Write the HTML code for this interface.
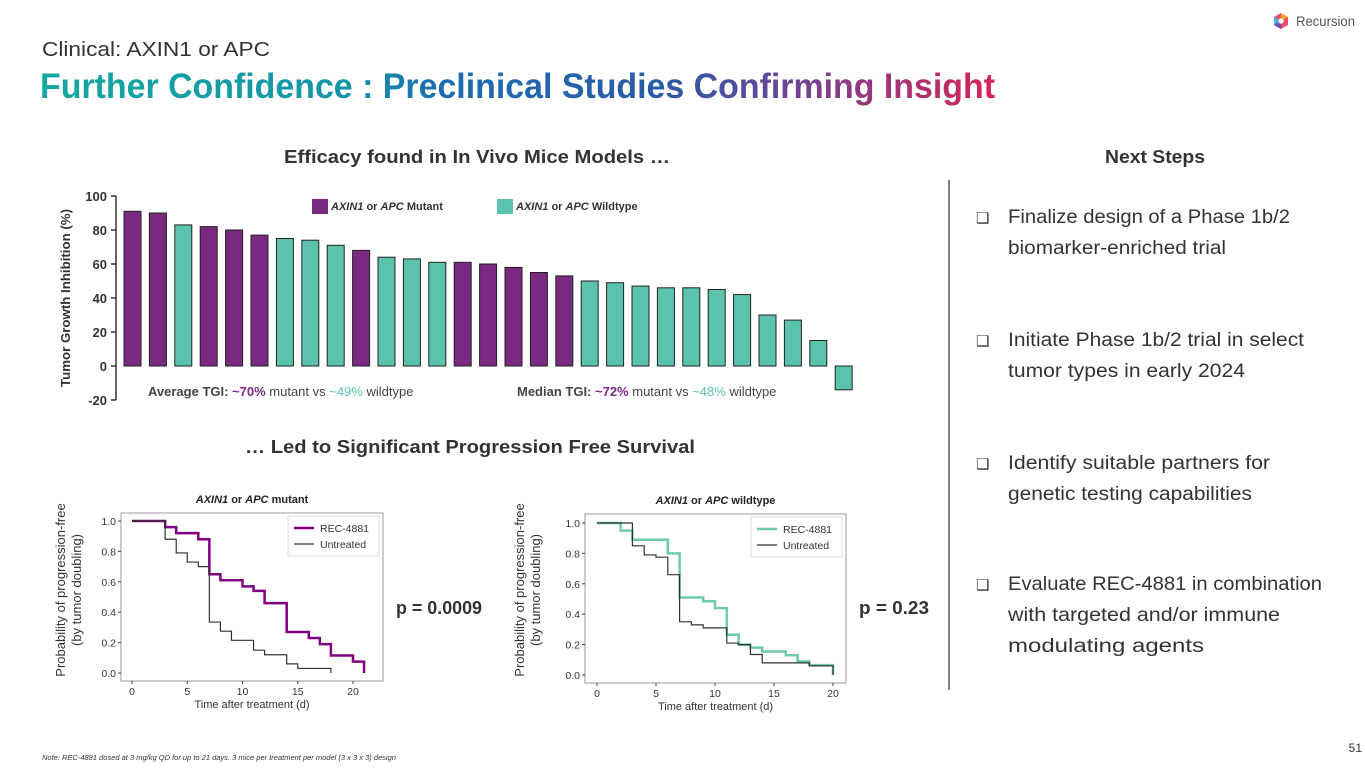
<!DOCTYPE html>
<html><head><meta charset="utf-8"><style>
html,body{margin:0;padding:0;background:#fff;}
svg{display:block;font-family:"Liberation Sans",sans-serif;}
</style></head><body>
<svg id="slide" width="1365" height="768" viewBox="0 0 1365 768" xmlns="http://www.w3.org/2000/svg">
<defs>
<linearGradient id="tg" x1="40" y1="0" x2="995" y2="0" gradientUnits="userSpaceOnUse">
<stop offset="0" stop-color="#14A7A0"/><stop offset="0.33" stop-color="#1393A8"/>
<stop offset="0.42" stop-color="#1C6DB0"/><stop offset="0.65" stop-color="#2A5AA6"/>
<stop offset="0.75" stop-color="#5B4A9A"/><stop offset="1" stop-color="#D7245A"/>
</linearGradient>
</defs>
<g>
<polygon points="1281,13 1288,17 1288,25 1281,29 1274,25 1274,17" fill="#E94E77"/>
<polygon points="1281,13 1288,17 1281,21" fill="#F5A623"/>
<polygon points="1274,17 1281,21 1274,25" fill="#3DB4E5"/>
<polygon points="1281,21 1281,29 1274,25" fill="#6C4BA8"/>
<circle cx="1281" cy="21" r="2.6" fill="#fff"/>
<text x="1296" y="26" font-size="14" fill="#555" textLength="59" lengthAdjust="spacingAndGlyphs">Recursion</text>
</g>
<text x="42" y="56" font-size="20" fill="#333" textLength="228" lengthAdjust="spacingAndGlyphs">Clinical: AXIN1 or APC</text>
<text x="40" y="98" font-size="35" font-weight="bold" fill="url(#tg)" textLength="955" lengthAdjust="spacingAndGlyphs">Further Confidence : Preclinical Studies Confirming Insight</text>
<text x="477" y="163" font-size="18" font-weight="bold" fill="#333" text-anchor="middle" textLength="386" lengthAdjust="spacingAndGlyphs">Efficacy found in In Vivo Mice Models …</text>
<text x="470" y="453" font-size="18" font-weight="bold" fill="#333" text-anchor="middle" textLength="450" lengthAdjust="spacingAndGlyphs">… Led to Significant Progression Free Survival</text>
<text x="1155" y="163" font-size="18" font-weight="bold" fill="#333" text-anchor="middle" textLength="100" lengthAdjust="spacingAndGlyphs">Next Steps</text>
<line x1="949" y1="180" x2="949" y2="690" stroke="#555" stroke-width="1.5"/>
<g font-size="19" fill="#333">
<text x="976" y="223" font-size="15">❑</text><text x="1008" y="223" textLength="282" lengthAdjust="spacingAndGlyphs">Finalize design of a Phase 1b/2</text><text x="1008" y="254" textLength="218" lengthAdjust="spacingAndGlyphs">biomarker-enriched trial</text>
<text x="976" y="346" font-size="15">❑</text><text x="1008" y="346" textLength="296" lengthAdjust="spacingAndGlyphs">Initiate Phase 1b/2 trial in select</text><text x="1008" y="377" textLength="237" lengthAdjust="spacingAndGlyphs">tumor types in early 2024</text>
<text x="976" y="469" font-size="15">❑</text><text x="1008" y="469" textLength="262" lengthAdjust="spacingAndGlyphs">Identify suitable partners for</text><text x="1008" y="500" textLength="244" lengthAdjust="spacingAndGlyphs">genetic testing capabilities</text>
<text x="976" y="590" font-size="15">❑</text><text x="1008" y="590" textLength="314" lengthAdjust="spacingAndGlyphs">Evaluate REC-4881 in combination</text><text x="1008" y="621" textLength="272" lengthAdjust="spacingAndGlyphs">with targeted and/or immune</text><text x="1008" y="652" textLength="196" lengthAdjust="spacingAndGlyphs">modulating agents</text>
</g>
<g id="bar-chart"></g>
<text transform="translate(70,298) rotate(-90)" font-size="13" font-weight="bold" fill="#333" text-anchor="middle" textLength="178" lengthAdjust="spacingAndGlyphs">Tumor Growth Inhibition (%)</text>
<g font-size="11" font-weight="bold" fill="#333">
<rect x="312" y="199" width="16" height="15" fill="#7B2A82"/><text x="331" y="210"><tspan font-style="italic">AXIN1</tspan> or <tspan font-style="italic">APC</tspan> Mutant</text>
<rect x="497" y="199" width="16" height="15" fill="#5BC2AE"/><text x="516" y="210"><tspan font-style="italic">AXIN1</tspan> or <tspan font-style="italic">APC</tspan> Wildtype</text>
</g>
<g font-size="13" fill="#444">
<text x="148" y="396"><tspan font-weight="bold">Average TGI: </tspan><tspan fill="#7B2A82" font-weight="bold">~70%</tspan> mutant vs <tspan fill="#5BC2AE">~49%</tspan> wildtype</text>
<text x="517" y="396"><tspan font-weight="bold">Median TGI: </tspan><tspan fill="#7B2A82" font-weight="bold">~72%</tspan> mutant vs <tspan fill="#5BC2AE">~48%</tspan> wildtype</text>
</g>
<g id="km1"></g>
<g id="km2"></g>
<g font-size="13" fill="#333">
<text transform="translate(65,590) rotate(-90)" text-anchor="middle">Probability of progression-free</text>
<text transform="translate(81,590) rotate(-90)" text-anchor="middle">(by tumor doubling)</text>
<text transform="translate(524,590) rotate(-90)" text-anchor="middle">Probability of progression-free</text>
<text transform="translate(540,590) rotate(-90)" text-anchor="middle">(by tumor doubling)</text>
</g>
<text x="396" y="614" font-size="18" font-weight="bold" fill="#333" textLength="86" lengthAdjust="spacingAndGlyphs">p = 0.0009</text>
<text x="859" y="614" font-size="18" font-weight="bold" fill="#333" textLength="70" lengthAdjust="spacingAndGlyphs">p = 0.23</text>
<text x="42" y="760" font-size="7.5" font-style="italic" fill="#333">Note: REC-4881 dosed at 3 mg/kg QD for up to 21 days. 3 mice per treatment per model (3 x 3 x 3) design</text>
<text x="1362" y="752" font-size="12" fill="#333" text-anchor="end">51</text>
</svg>
<script>
const NS='http://www.w3.org/2000/svg';
const tgiValues=[91,90,83,82,80,77,75,74,71,68,64,63,61,61,60,58,55,53,50,49,47,46,46,45,42,30,27,15,-14];
const tgiGroups=['M','M','W','M','M','M','W','W','W','M','W','W','W','M','M','M','M','M','W','W','W','W','W','W','W','W','W','W','W'];
const tgiTicks=[100,80,60,40,20,0,-20];
const km1Times=[0,3,4,6,7,8,10,11,12,14,16,17,18,20,21];
const km1Rec=[1,0.96,0.92,0.88,0.65,0.61,0.57,0.54,0.46,0.27,0.23,0.19,0.115,0.075,0];
const km1UTimes=[0,3,4,5,6,7,8,9,11,12,14,15,18];
const km1Untr=[1,0.88,0.79,0.73,0.70,0.335,0.275,0.215,0.15,0.12,0.06,0.03,0];
const km2Times=[0,2,3,6,7,9,10,11,12,13,14,16,17,18,20];
const km2Rec=[1,0.95,0.89,0.80,0.51,0.485,0.44,0.265,0.20,0.18,0.155,0.13,0.09,0.065,0];
const km2UTimes=[0,3,4,5,6,7,8,9,11,12,13,14,18,20];
const km2Untr=[1,0.85,0.79,0.775,0.66,0.35,0.33,0.31,0.21,0.20,0.135,0.08,0.06,0];
const kmYTicks=[0,0.2,0.4,0.6,0.8,1.0];
const kmXTicks=[0,5,10,15,20];

function mk(tag,attrs,parent){const e=document.createElementNS(NS,tag);for(const k in attrs)e.setAttribute(k,attrs[k]);parent.appendChild(e);return e;}

const bc=document.getElementById('bar-chart');
const yS=v=>366-v*1.7;
const xS=i=>124+i*25.4;
mk('line',{x1:116,y1:196,x2:116,y2:400,stroke:'#333','stroke-width':1.5},bc);
tgiTicks.forEach(t=>{
  mk('line',{x1:111,y1:yS(t),x2:116,y2:yS(t),stroke:'#333','stroke-width':1.5},bc);
  const tx=mk('text',{x:107,y:yS(t)+5,'font-size':13,'font-weight':'bold',fill:'#333','text-anchor':'end'},bc);
  tx.textContent=t;
});
tgiValues.forEach((v,i)=>{
  const r=mk('rect',{x:xS(i),y:Math.min(yS(v),yS(0)),width:17,height:Math.abs(yS(v)-yS(0)),fill:tgiGroups[i]==='M'?'#7B2A82':'#5BC2AE',stroke:'#222','stroke-width':1},bc);
  
  
});

function km(g,box,x0,xd,y0,y1,title,series){
  mk('rect',{x:box[0],y:box[1],width:box[2],height:box[3],fill:'#fff',stroke:'#999','stroke-width':1},g);
  const X=t=>x0+t*xd, Y=v=>y0-(y0-y1)*v;
  kmXTicks.forEach(t=>{mk('line',{x1:X(t),y1:box[1]+box[3],x2:X(t),y2:box[1]+box[3]+3,stroke:'#444'},g);
    const tx=mk('text',{x:X(t),y:box[1]+box[3]+14,'font-size':10.5,fill:'#333','text-anchor':'middle'},g);tx.textContent=t;});
  kmYTicks.forEach(t=>{mk('line',{x1:box[0]-3,y1:Y(t),x2:box[0],y2:Y(t),stroke:'#444'},g);
    const tx=mk('text',{x:box[0]-5,y:Y(t)+4,'font-size':10.5,fill:'#333','text-anchor':'end'},g);tx.textContent=t.toFixed(1);});
  const xl=mk('text',{x:box[0]+box[2]/2,y:box[1]+box[3]+27,'font-size':11,fill:'#333','text-anchor':'middle'},g);xl.textContent='Time after treatment (d)';
  const tt=mk('text',{x:box[0]+box[2]/2,y:box[1]-10,'font-size':11,'font-weight':'bold',fill:'#222','text-anchor':'middle'},g);
  tt.innerHTML='<tspan font-style="italic">AXIN1</tspan> or <tspan font-style="italic">APC</tspan> '+title;
  series.forEach(s=>{
    let d='M'+X(s.t[0])+','+Y(s.v[0]);
    for(let i=1;i<s.t.length;i++){d+=' H'+X(s.t[i])+' V'+Y(s.v[i]);}
    const p=mk('path',{d:d,fill:'none',stroke:s.c,'stroke-width':s.w},g);
    
    
  });
  const lx=box[0]+box[2]-95, ly=box[1]+3;
  mk('rect',{x:lx,y:ly,width:91,height:40,fill:'#fff',stroke:'#ddd'},g);
  series.forEach((s,i)=>{mk('line',{x1:lx+6,y1:ly+12+i*16,x2:lx+26,y2:ly+12+i*16,stroke:s.c,'stroke-width':s.w},g);
    const t=mk('text',{x:lx+32,y:ly+16+i*16,'font-size':10.5,fill:'#333'},g);t.textContent=s.n;});
}
km(document.getElementById('km1'),[121,513,262,168],132,11.05,673,521,'mutant',
  [{t:km1UTimes,v:km1Untr,c:'#333',w:1.2,n:'Untreated'},{t:km1Times,v:km1Rec,c:'#800080',w:2.5,n:'REC-4881'}].reverse());
km(document.getElementById('km2'),[585,514,261,169],597,11.8,675,523,'wildtype',
  [{t:km2Times,v:km2Rec,c:'#6FC9AF',w:2.5,n:'REC-4881'},{t:km2UTimes,v:km2Untr,c:'#333',w:1.2,n:'Untreated'}]);
</script>
</body></html>
